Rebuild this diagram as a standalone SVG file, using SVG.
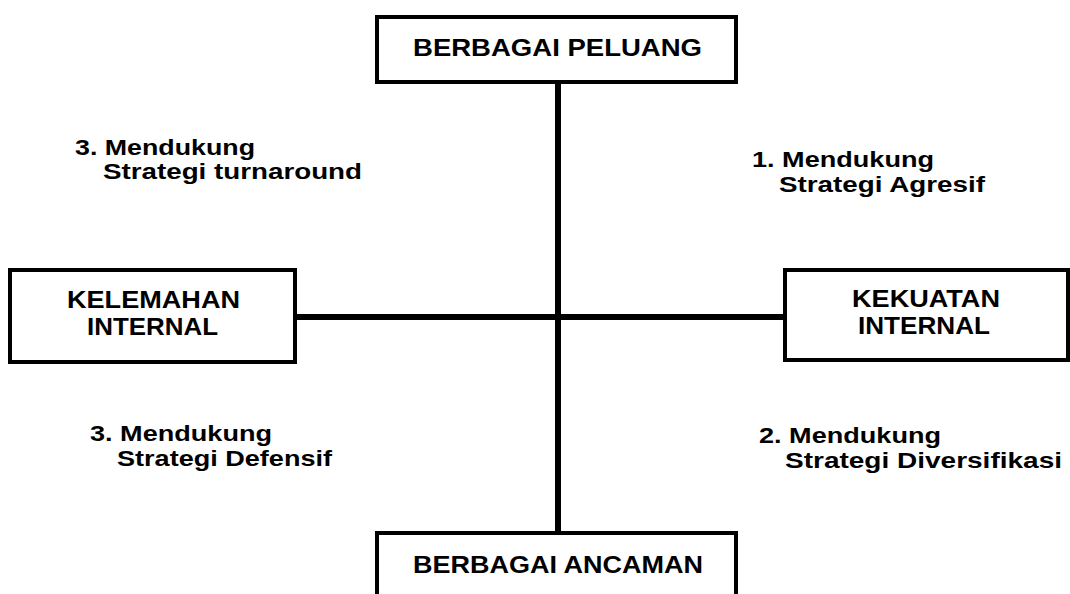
<svg xmlns="http://www.w3.org/2000/svg" width="1070" height="594" viewBox="0 0 1070 594">
  <style>
    .box { fill: #ffffff; stroke: #000000; stroke-width: 4; }
    .axis { stroke: #000000; stroke-width: 6; fill: none; }
    .title { font-family: "Liberation Sans", Arial, sans-serif; font-weight: bold; font-size: 23px; fill: #000000; }
    .label { font-family: "Liberation Sans", Arial, sans-serif; font-weight: bold; font-size: 22.5px; fill: #000000; }
  </style>
  <rect width="1070" height="594" fill="#ffffff"/>

  <!-- axes -->
  <g id="connectors">
    <line class="axis" x1="558" y1="82" x2="558" y2="533"/>
    <line class="axis" x1="295" y1="317" x2="785" y2="317"/>
  </g>

  <g id="node-peluang">
    <rect class="box" x="377" y="17" width="359" height="65"/>
    <text class="title" x="413" y="56" textLength="289" lengthAdjust="spacingAndGlyphs">BERBAGAI PELUANG</text>
  </g>

  <g id="node-kelemahan">
    <rect class="box" x="10" y="270" width="285" height="92"/>
    <text class="title" x="67" y="308" textLength="173" lengthAdjust="spacingAndGlyphs">KELEMAHAN</text>
    <text class="title" x="87" y="335" textLength="131" lengthAdjust="spacingAndGlyphs">INTERNAL</text>
  </g>

  <g id="node-kekuatan">
    <rect class="box" x="785" y="270" width="283" height="90"/>
    <text class="title" x="852" y="307" textLength="148" lengthAdjust="spacingAndGlyphs">KEKUATAN</text>
    <text class="title" x="858" y="334" textLength="132" lengthAdjust="spacingAndGlyphs">INTERNAL</text>
  </g>

  <g id="node-ancaman">
    <rect class="box" x="377" y="533" width="359" height="70"/>
    <text class="title" x="413" y="573" textLength="290" lengthAdjust="spacingAndGlyphs">BERBAGAI ANCAMAN</text>
  </g>

  <!-- quadrant labels -->
  <g id="label-turnaround">
    <text class="label" x="75" y="155" textLength="180" lengthAdjust="spacingAndGlyphs">3. Mendukung</text>
    <text class="label" x="103" y="179" textLength="259" lengthAdjust="spacingAndGlyphs">Strategi turnaround</text>
  </g>
  <g id="label-agresif">
    <text class="label" x="752" y="167" textLength="182" lengthAdjust="spacingAndGlyphs">1. Mendukung</text>
    <text class="label" x="779" y="192" textLength="206" lengthAdjust="spacingAndGlyphs">Strategi Agresif</text>
  </g>
  <g id="label-defensif">
    <text class="label" x="90" y="441" textLength="182" lengthAdjust="spacingAndGlyphs">3. Mendukung</text>
    <text class="label" x="117" y="466" textLength="215" lengthAdjust="spacingAndGlyphs">Strategi Defensif</text>
  </g>
  <g id="label-diversifikasi">
    <text class="label" x="759" y="443" textLength="182" lengthAdjust="spacingAndGlyphs">2. Mendukung</text>
    <text class="label" x="785" y="468" textLength="277" lengthAdjust="spacingAndGlyphs">Strategi Diversifikasi</text>
  </g>
</svg>
